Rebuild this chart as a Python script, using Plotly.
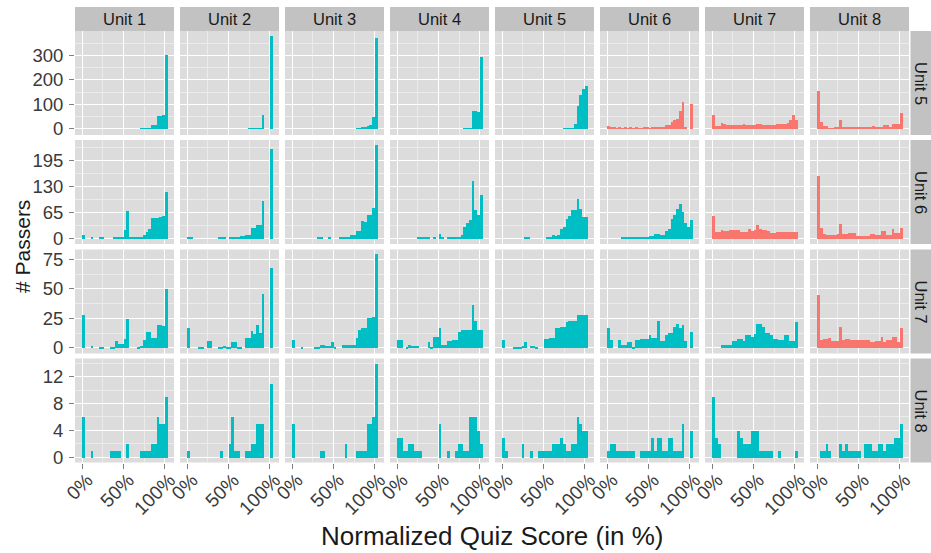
import plotly.graph_objects as go

W, H = 931, 553

# ---------------- data ----------------
col_labels = ["Unit 1", "Unit 2", "Unit 3", "Unit 4", "Unit 5", "Unit 6", "Unit 7", "Unit 8"]
row_labels = ["Unit 5", "Unit 6", "Unit 7", "Unit 8"]
x_tick_vals = [0, 50, 100]
x_tick_text = ["0%", "50%", "100%"]
y_ticks_unit5 = [0, 100, 200, 300]
y_ticks_unit6 = [0, 65, 130, 195]
y_ticks_unit7 = [0, 25, 50, 75]
y_ticks_unit8 = [0, 4, 8, 12]

# counts per 31 score bins (width 100/30 %), passers of row unit, quiz of column unit
r5_u1 = [0,0,0,0,0,0,0,0,0,0, 0,0,0,0,0,0,0,0,0,0, 0,1,2,3,3,14,14,52,52,55, 300]
r5_u2 = [0,0,0,0,0,0,0,0,0,0, 0,0,0,0,0,0,0,0,0,0, 0,0,1,1,2,3,3,55,0,0, 378]
r5_u3 = [0,0,0,0,0,0,0,0,0,0, 0,0,0,0,0,0,0,0,0,0, 0,0,0,2,3,5,5,10,15,48, 372]
r5_u4 = [0,0,0,0,0,0,0,0,0,0, 0,0,0,0,0,0,0,0,0,0, 0,0,0,0,1,2,2,73,73,69, 293]
r5_u5 = [0,0,0,0,0,0,0,0,0,0, 0,0,0,0,0,0,0,0,0,0, 0,0,1,1,2,3,20,92,137,162, 175]
r5_u6 = [10,4,4,3,5,2,4,3,4,3, 4,2,3,4,4,3,4,4,5,5, 6,14,14,30,35,40,75,108,5,0, 100]
r5_u7 = [55,10,10,23,22,15,14,15,14,15, 14,18,14,14,15,14,18,18,15,14, 14,14,15,18,18,18,20,25,35,55, 35]
r5_u8 = [155,27,12,10,3,3,4,4,35,4, 4,5,7,7,7,7,4,4,4,5, 10,5,5,5,14,14,8,20,20,22, 65]

r6_u1 = [10,0,0,3,0,0,2,2,0,0, 0,2,2,2,2,21,69,2,2,2, 2,2,10,17,25,52,52,52,55,57, 117]
r6_u2 = [3,2,0,0,0,0,0,0,0,0, 0,2,3,2,0,3,3,3,3,6, 6,10,10,27,27,35,35,93,0,0, 225]
r6_u3 = [0,0,0,0,0,0,0,0,0,3, 3,0,0,2,0,0,0,3,3,3, 4,10,10,18,18,45,42,58,58,77, 233]
r6_u4 = [0,0,0,0,0,0,0,2,2,2, 2,2,0,3,0,12,3,0,3,3, 4,3,5,8,29,40,46,145,72,60, 110]
r6_u5 = [0,0,0,0,0,0,0,0,2,2, 0,0,0,0,0,0,3,5,8,6, 10,25,30,50,56,72,72,100,75,55, 55]
r6_u6 = [0,0,0,0,0,2,3,2,3,3, 3,3,3,4,5,6,6,12,12,8, 8,20,25,50,60,75,86,67,40,28, 46]
r6_u7 = [56,17,17,21,18,18,21,21,21,21, 17,17,17,25,19,22,35,25,21,21, 18,14,14,16,16,17,17,17,17,16, 17]
r6_u8 = [156,27,12,10,10,10,10,12,36,11, 11,14,14,14,7,7,6,6,6,12, 12,8,8,19,19,8,8,25,14,14, 27]

r7_u1 = [28,0,0,2,0,0,1,1,0,0, 1,1,6,4,4,8,25,0,0,0, 1,2,7,14,14,9,9,20,20,19, 50]
r7_u2 = [17,0,0,0,1,1,0,6,6,0, 0,1,1,2,1,1,5,5,1,1, 0,9,9,15,12,20,13,46,0,0, 68]
r7_u3 = [7,0,0,1,0,0,0,0,1,1, 3,3,2,2,5,1,0,0,3,3, 3,3,3,9,16,17,17,26,26,27, 80]
r7_u4 = [7,7,0,1,3,2,2,2,0,0, 0,5,1,10,10,17,3,3,6,6, 7,7,14,16,16,16,16,37,23,16, 16]
r7_u5 = [7,0,0,0,1,1,1,2,5,0, 2,2,1,0,0,8,8,9,9,17, 17,18,18,22,23,23,23,28,28,28, 28]
r7_u6 = [17,7,0,0,7,3,3,5,5,1, 7,7,8,8,8,11,9,9,23,6, 6,11,13,13,18,21,17,20,6,0, 14]
r7_u7 = [0,0,0,3,3,3,3,6,6,8, 8,6,11,11,10,12,21,21,18,13, 13,11,8,8,7,7,11,11,6,6, 22]
r7_u8 = [45,7,8,8,9,6,6,6,18,7, 8,8,7,7,7,7,7,7,7,5, 5,6,6,10,5,7,7,10,10,5, 17]

r8_u1 = [6,0,0,1,0,0,0,0,0,0, 1,1,1,1,0,0,2,0,0,0, 0,1,1,1,1,2,2,6,5,5, 9]
r8_u2 = [1,0,0,0,0,0,0,0,0,0, 0,0,1,0,0,2,6,1,1,0, 0,1,1,2,2,5,5,5,0,0, 11]
r8_u3 = [5,0,0,0,0,0,0,0,0,0, 1,1,0,0,0,0,0,0,0,2, 0,0,0,1,1,1,1,5,5,6, 14]
r8_u4 = [3,3,1,1,2,2,1,1,1,0, 0,0,0,0,0,5,0,0,1,0, 0,1,2,2,1,1,6,6,6,4, 2]
r8_u5 = [3,1,0,0,0,0,0,2,0,0, 1,0,0,1,1,1,1,1,2,2, 2,3,2,1,1,2,2,6,5,4, 4]
r8_u6 = [1,2,2,1,1,1,1,1,1,1, 0,0,1,1,1,1,3,1,3,3, 1,1,3,3,1,1,1,5,0,0, 4]
r8_u7 = [9,3,2,0,0,0,0,0,0,4, 3,2,2,2,4,4,4,1,1,1, 1,1,0,0,1,0,0,0,0,0, 1]
r8_u8 = [0,1,1,2,1,0,0,0,2,1, 2,1,1,1,1,1,0,2,2,2, 1,1,2,2,1,2,2,2,3,3, 5]

rows_data = [
    [r5_u1, r5_u2, r5_u3, r5_u4, r5_u5, r5_u6, r5_u7, r5_u8],
    [r6_u1, r6_u2, r6_u3, r6_u4, r6_u5, r6_u6, r6_u7, r6_u8],
    [r7_u1, r7_u2, r7_u3, r7_u4, r7_u5, r7_u6, r7_u7, r7_u8],
    [r8_u1, r8_u2, r8_u3, r8_u4, r8_u5, r8_u6, r8_u7, r8_u8],
]
y_ticks = [y_ticks_unit5, y_ticks_unit6, y_ticks_unit7, y_ticks_unit8]

# ---------------- styling / layout ----------------
y_ranges = [[-25, 400], [-13.5, 246.5], [-4.8, 83.5], [-0.8, 14.7]]
x_range = [-8.8, 111.2]
TEAL = "#00BFC4"
RED = "#F8766D"
PANEL = "#DCDCDC"
STRIP = "#C2C2C2"
MINOR = "#EBEBEB"
FONT = "Liberation Sans, Arial, sans-serif"
TICKCOL = "#3A3A3A"

# tick label nudges (fall back gracefully if a value is not accepted)
X_SHIFT, X_STANDOFF = 5, -7
try:
    go.layout.XAxis(ticklabelstandoff=X_STANDOFF, ticklabelshift=X_SHIFT)
except Exception:
    X_STANDOFF = 0

bin_width = 100 / 30
bin_centers = [bin_width * (k + 0.5) for k in range(31)]

col_left = [75 + 105 * i for i in range(8)]
col_w = 99
row_top = [31, 140, 249.5, 358.5]
row_h = 104

fig = go.Figure()
axes = {}
for r in range(4):
    for c in range(8):
        idx = r * 8 + c + 1
        sfx = "" if idx == 1 else str(idx)
        color = RED if (c + 1) > (r + 5) else TEAL
        fig.add_trace(go.Bar(
            x=bin_centers, y=rows_data[r][c], width=bin_width,
            marker=dict(color=color, line=dict(width=0)),
            xaxis="x" + sfx, yaxis="y" + sfx, showlegend=False, hoverinfo="skip",
        ))
        x0, x1 = col_left[c], col_left[c] + col_w
        y0, y1 = row_top[r], row_top[r] + row_h
        dt = y_ticks[r][1] - y_ticks[r][0]
        ymin_vals = [v + dt / 2 for v in y_ticks[r]]
        axes["xaxis" + sfx] = dict(
            domain=[x0 / W, x1 / W], anchor="y" + sfx, range=x_range,
            tickmode="array", tickvals=x_tick_vals, ticktext=x_tick_text,
            showticklabels=(r == 3), ticks="outside" if r == 3 else "",
            ticklen=5, tickwidth=1, tickcolor="#7F7F7F", tickangle=-45,
            ticklabelshift=X_SHIFT, ticklabelstandoff=X_STANDOFF,
            tickfont=dict(family=FONT, size=19, color=TICKCOL),
            showgrid=True, gridcolor="white", gridwidth=1.2,
            minor=dict(tickmode="array", tickvals=[25, 75], showgrid=True,
                       gridcolor=MINOR, gridwidth=0.7, ticks=""),
            zeroline=False, showline=False, fixedrange=True, automargin=False,
        )
        axes["yaxis" + sfx] = dict(
            domain=[1 - y1 / H, 1 - y0 / H], anchor="x" + sfx, range=y_ranges[r],
            tickmode="array", tickvals=y_ticks[r],
            showticklabels=(c == 0), ticks="outside" if c == 0 else "",
            ticklen=5, tickwidth=1, tickcolor="#7F7F7F", ticklabelstandoff=2,
            tickfont=dict(family=FONT, size=18.5, color=TICKCOL),
            showgrid=True, gridcolor="white", gridwidth=1.2,
            minor=dict(tickmode="array", tickvals=ymin_vals, showgrid=True,
                       gridcolor=MINOR, gridwidth=0.7, ticks=""),
            zeroline=False, showline=False, fixedrange=True, automargin=False,
        )

shapes = []
annotations = []
for c in range(8):
    x0, x1 = col_left[c], col_left[c] + col_w
    shapes.append(dict(type="rect", xref="paper", yref="paper",
                       x0=x0 / W, x1=x1 / W, y0=1 - 31 / H, y1=1 - 7 / H,
                       fillcolor=STRIP, line=dict(width=0), layer="below"))
    annotations.append(dict(xref="paper", yref="paper", x=(x0 + x1) / 2 / W, y=1 - 19 / H,
                            text=col_labels[c], showarrow=False,
                            font=dict(family=FONT, size=16.5, color="#1A1A1A"),
                            xanchor="center", yanchor="middle"))
for r in range(4):
    y0, y1 = row_top[r], row_top[r] + row_h
    shapes.append(dict(type="rect", xref="paper", yref="paper",
                       x0=910.5 / W, x1=1.0, y0=1 - y1 / H, y1=1 - y0 / H,
                       fillcolor=STRIP, line=dict(width=0), layer="below"))
    annotations.append(dict(xref="paper", yref="paper", x=921 / W, y=1 - (y0 + y1) / 2 / H,
                            text=row_labels[r], showarrow=False, textangle=90,
                            font=dict(family=FONT, size=16.5, color="#1A1A1A"),
                            xanchor="center", yanchor="middle"))

annotations.append(dict(xref="paper", yref="paper", x=492 / W, y=1 - 536 / H,
                        text="Normalized Quiz Score (in %)", showarrow=False,
                        font=dict(family=FONT, size=26, color="#1A1A1A"),
                        xanchor="center", yanchor="middle"))
annotations.append(dict(xref="paper", yref="paper", x=22 / W, y=1 - 247 / H,
                        text="# Passers", showarrow=False, textangle=-90,
                        font=dict(family=FONT, size=21, color="#1A1A1A"),
                        xanchor="center", yanchor="middle"))

fig.update_layout(
    width=W, height=H, margin=dict(l=0, r=0, t=0, b=0, autoexpand=False),
    paper_bgcolor="white", plot_bgcolor=PANEL,
    bargap=0, barmode="overlay",
    shapes=shapes, annotations=annotations,
    font=dict(family=FONT),
    **axes,
)

fig.write_html("out.html")
